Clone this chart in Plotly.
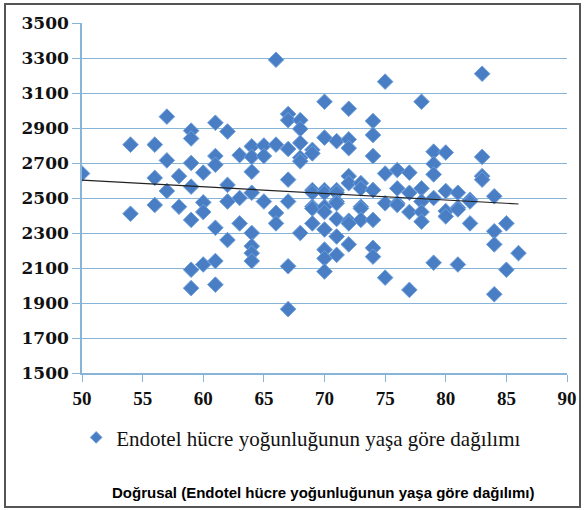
import numpy as np
import plotly.graph_objects as go

# Age (x) and endothelial cell density (y)
ages = (
    [50] + [54]*2 + [56]*3 + [57]*3 + [58]*2 + [59]*7 + [60]*4 + [61]*6 + [62]*4 + [63]*3
    + [64]*8 + [65]*3 + [66]*4 + [67]*7 + [68]*6 + [69]*7 + [70]*10 + [71]*8 + [72]*8
    + [73]*5 + [74]*8 + [75]*4 + [76]*4 + [77]*4 + [78]*5 + [79]*5 + [80]*4 + [81]*4
    + [82]*3 + [83]*4 + [84]*4 + [85]*2 + [86]*1
)
density = (
    [2640]
    + [2805, 2410]
    + [2805, 2615, 2460]
    + [2965, 2715, 2540]
    + [2625, 2450]
    + [2885, 2840, 2700, 2565, 2375, 2090, 1985]
    + [2645, 2475, 2420, 2120]
    + [2930, 2740, 2690, 2330, 2140, 2005]
    + [2880, 2575, 2480, 2260]
    + [2745, 2500, 2355]
    + [2795, 2735, 2650, 2530, 2300, 2225, 2185, 2140]
    + [2800, 2740, 2480]
    + [3290, 2805, 2415, 2355]
    + [2980, 2945, 2780, 2605, 2480, 2110, 1865]
    + [2945, 2895, 2815, 2730, 2710, 2300]
    + [2775, 2755, 2545, 2530, 2450, 2440, 2355]
    + [3050, 2845, 2545, 2530, 2450, 2420, 2320, 2205, 2155, 2080]
    + [2825, 2545, 2530, 2480, 2470, 2380, 2280, 2175]
    + [3010, 2835, 2785, 2625, 2585, 2370, 2355, 2235]
    + [2585, 2555, 2450, 2440, 2375]
    + [2940, 2860, 2740, 2545, 2545, 2375, 2215, 2165]
    + [3165, 2640, 2470, 2045]
    + [2660, 2555, 2470, 2460]
    + [2645, 2530, 2420, 1975]
    + [3050, 2555, 2480, 2420, 2365]
    + [2765, 2695, 2635, 2500, 2130]
    + [2760, 2540, 2425, 2395]
    + [2530, 2445, 2435, 2120]
    + [2490, 2480, 2355]
    + [3210, 2735, 2625, 2605]
    + [2510, 2310, 2235, 1950]
    + [2355, 2090]
    + [2185]
)

x_ticks = [50, 55, 60, 65, 70, 75, 80, 85, 90]
y_ticks = [1500, 1700, 1900, 2100, 2300, 2500, 2700, 2900, 3100, 3300, 3500]

series_name = "Endotel hücre yoğunluğunun yaşa göre dağılımı"
trend_name = "Doğrusal (Endotel hücre yoğunluğunun yaşa göre dağılımı)"

ax = np.array(ages, dtype=float)
ay = np.array(density, dtype=float)
slope, intercept = np.polyfit(ax, ay, 1)
tx = [ax.min(), ax.max()]
ty = [slope * v + intercept for v in tx]

fill = "rgb(74,126,196)"
edge = "rgb(110,160,220)"
grid = "rgb(135,180,215)"

fig = go.Figure()
fig.add_trace(go.Scatter(
    x=ages, y=density, mode="markers",
    marker=dict(symbol="diamond", size=12, color=fill,
                line=dict(color=edge, width=1)),
    showlegend=False, hoverinfo="x+y",
))
fig.add_trace(go.Scatter(
    x=tx, y=ty, mode="lines", line=dict(color="#222222", width=1.2),
    showlegend=False,
))
# legend-only entry
fig.add_trace(go.Scatter(
    x=[None], y=[None], mode="markers", name=series_name,
    marker=dict(symbol="diamond", size=9, color=fill,
                line=dict(color=edge, width=1)),
))

fig.update_layout(
    width=584, height=510, autosize=False,
    margin=dict(l=82, r=17, t=23, b=137, autoexpand=False),
    paper_bgcolor="white", plot_bgcolor="white",
    showlegend=True,
    legend=dict(orientation="h", x=-0.012, xanchor="left", y=-0.185, yanchor="middle",
                font=dict(family="Liberation Serif", size=21, color="#111111"),
                bgcolor="rgba(0,0,0,0)", itemwidth=30),
    xaxis=dict(range=[50, 90], tickvals=x_ticks, ticktext=[str(v) for v in x_ticks],
               automargin=False,
               showgrid=False, zeroline=False, showline=True, linecolor=grid, linewidth=1.5,
               ticks="outside", ticklen=7, tickcolor=grid, tickwidth=1.2,
               tickfont=dict(family="Liberation Serif", size=19, color="#111111", weight="bold")),
    yaxis=dict(range=[1500, 3500], tickvals=y_ticks, ticktext=[str(v) for v in y_ticks],
               automargin=False,
               showgrid=True, gridcolor=grid, gridwidth=1.2, zeroline=False,
               showline=True, linecolor=grid, linewidth=1.5,
               ticks="outside", ticklen=8, tickcolor=grid, tickwidth=1.2,
               tickfont=dict(family="DejaVu Serif", size=17, color="#111111", weight="bold")),
    annotations=[dict(
        text="<b>" + trend_name + "</b>", xref="paper", yref="paper",
        x=0.497, y=-0.34, xanchor="center", yanchor="middle", showarrow=False,
        font=dict(family="Liberation Sans", size=15, color="#000000"))],
    shapes=[dict(type="rect", xref="paper", yref="paper",
                 x0=(5 - 82) / 485, x1=(580 - 82) / 485,
                 y0=(373 - 507) / 350, y1=(373 - 4) / 350,
                 line=dict(color="#555555", width=2), fillcolor="rgba(0,0,0,0)")],
)

fig.write_html(
    "out.html",
    config={"displayModeBar": False, "responsive": False},
    default_width="584px", default_height="510px",
    post_script="document.body.style.margin='0';document.body.style.overflow='hidden';",
)
